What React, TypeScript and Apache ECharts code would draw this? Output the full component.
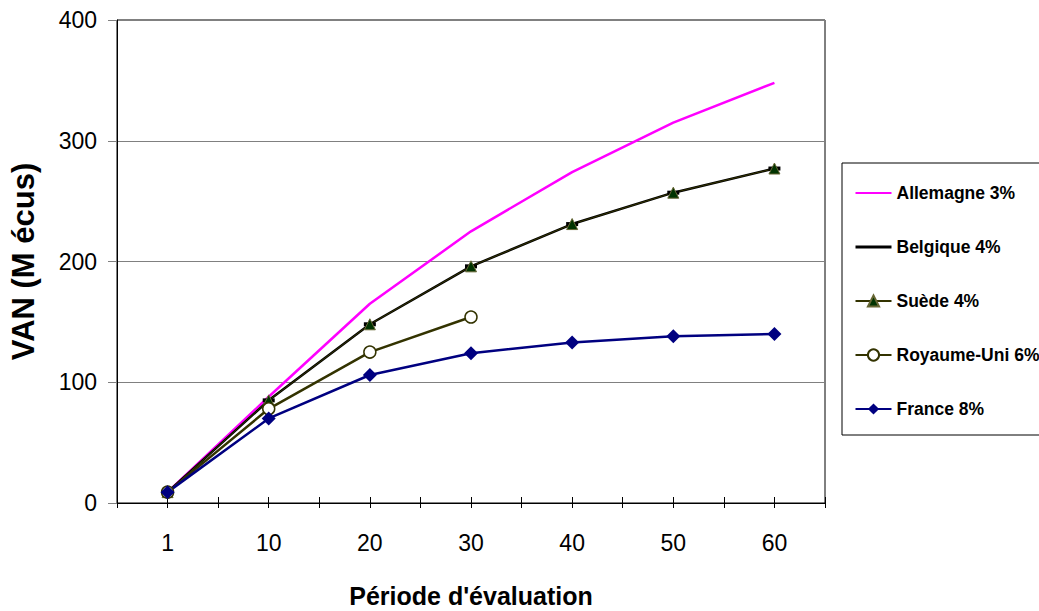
import React, { useEffect, useRef } from "react";
import * as echarts from "echarts";

// Périodes d'évaluation (années)
const periods = ["1", "10", "20", "30", "40", "50", "60"];

// VAN en millions d'écus, par pays et taux d'actualisation
const allemagne3 = [9, 88, 165, 225, 274, 315, 348];
const belgique4 = [9, 85, 148, 196, 231, 257, 277];
const suede4 = [9, 85, 148, 196, 231, 257, 277];
const royaumeUni6 = [9, 78, 125, 154, null, null, null];
const france8 = [9, 70, 106, 124, 133, 138, 140];

const yTicks = { min: 0, max: 400, interval: 100 };

const FONT = "Arial, 'Liberation Sans', sans-serif";

export default function App() {
  const ref = useRef<HTMLDivElement>(null);

  useEffect(() => {
    if (!ref.current) return;
    const chart = echarts.init(ref.current, null, { renderer: "svg" });
    chart.setOption({
      animation: false,
      backgroundColor: "#ffffff",
      textStyle: { fontFamily: FONT },
      grid: {
        left: 117,
        right: 214,
        top: 20,
        bottom: 108,
        outerBoundsMode: "none",
        show: true,
        borderColor: "#000",
        borderWidth: 1,
      },
      legend: {
        orient: "vertical",
        left: 842,
        top: 163,
        padding: [21, 40, 17, 12],
        itemGap: 36,
        itemWidth: 36,
        itemHeight: 14,
        borderColor: "#000",
        borderWidth: 1,
        textStyle: { fontFamily: FONT, fontWeight: "bold", fontSize: 17.5, color: "#000" },
        data: [
          { name: "Allemagne 3%", itemStyle: { opacity: 0 } },
          { name: "Belgique 4%", itemStyle: { opacity: 0 }, lineStyle: { width: 3 } },
          { name: "Suède 4%" },
          { name: "Royaume-Uni 6%" },
          { name: "France 8%" },
        ],
      },
      xAxis: [
        {
          type: "category",
          data: periods,
          boundaryGap: true,
          axisLine: { lineStyle: { color: "#000", width: 1 } },
          axisTick: { show: false },
          axisLabel: { fontFamily: FONT, fontSize: 23, color: "#000", margin: 28 },
          name: "Période d'évaluation",
          nameLocation: "middle",
          nameGap: 80,
          nameTextStyle: { fontFamily: FONT, fontWeight: "bold", fontSize: 25, color: "#000" },
        },
        {
          // tick marks every half period, crossing the axis line
          type: "value",
          min: 0,
          max: 14,
          interval: 1,
          position: "bottom",
          offset: -6,
          axisLine: { show: false },
          axisTick: { show: true, length: 11, lineStyle: { color: "#000" } },
          axisLabel: { show: false },
          splitLine: { show: false },
        },
      ],
      yAxis: {
        type: "value",
        min: yTicks.min,
        max: yTicks.max,
        interval: yTicks.interval,
        axisLine: { show: true, lineStyle: { color: "#000" } },
        axisTick: { show: true, length: 9, lineStyle: { color: "#808080" } },
        axisLabel: { fontFamily: FONT, fontSize: 23, color: "#000", margin: 20 },
        splitLine: { show: true, lineStyle: { color: "#808080", width: 1 } },
        name: "VAN (M écus)",
        nameLocation: "middle",
        nameGap: 78,
        nameTextStyle: { fontFamily: FONT, fontWeight: "bold", fontSize: 31, color: "#000" },
      },
      series: [
        {
          name: "Allemagne 3%",
          type: "line",
          data: allemagne3,
          symbol: "none",
          lineStyle: { color: "#ff00ff", width: 2.5 },
          itemStyle: { color: "#ff00ff" },
        },
        {
          name: "Belgique 4%",
          type: "line",
          data: belgique4,
          symbol: "rect",
          symbolSize: [12, 4],
          lineStyle: { color: "#000", width: 2.5 },
          itemStyle: { color: "#000" },
        },
        {
          name: "Suède 4%",
          type: "line",
          data: suede4,
          symbol: "triangle",
          symbolSize: 11,
          lineStyle: { color: "#333300", width: 1 },
          itemStyle: { color: "#003300", borderColor: "#666633", borderWidth: 1 },
        },
        {
          name: "Royaume-Uni 6%",
          type: "line",
          data: royaumeUni6,
          symbol: "circle",
          symbolSize: 12,
          lineStyle: { color: "#333300", width: 2.5 },
          itemStyle: { color: "#ffffff", borderColor: "#333300", borderWidth: 1.5 },
        },
        {
          name: "France 8%",
          type: "line",
          data: france8,
          symbol: "diamond",
          symbolSize: 14,
          lineStyle: { color: "#000080", width: 2.5 },
          itemStyle: { color: "#000080" },
        },
      ],
    });
    return () => chart.dispose();
  }, []);

  return <div ref={ref} style={{ width: 1039, height: 611, position: "absolute", left: 0, top: 0 }} />;
}
